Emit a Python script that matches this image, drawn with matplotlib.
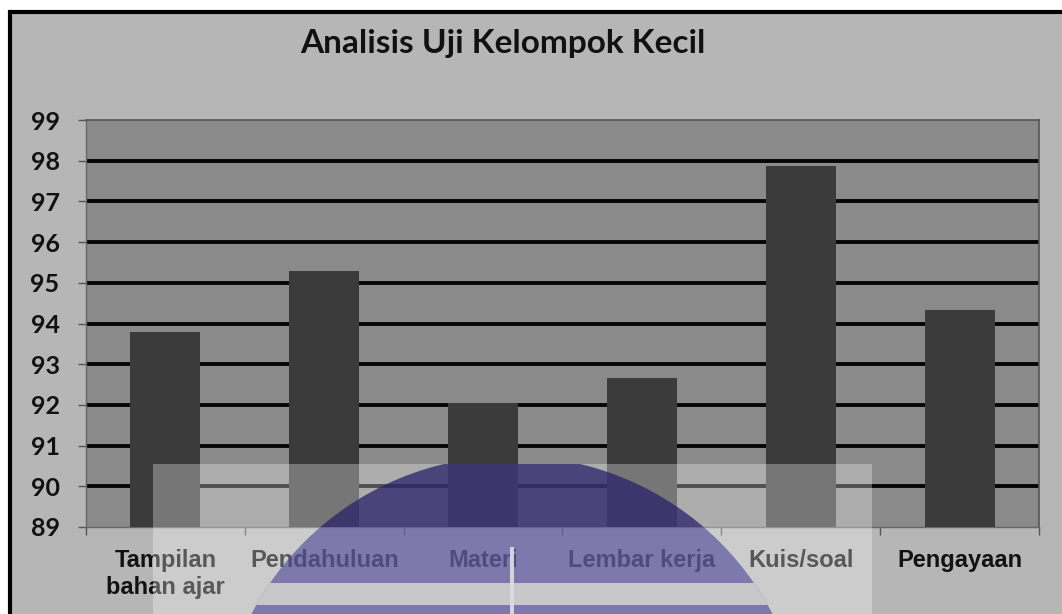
import matplotlib.pyplot as plt
import numpy as np
from matplotlib.patches import Rectangle, Circle
from matplotlib.transforms import Affine2D

categories = ["Tampilan\nbahan ajar", "Pendahuluan", "Materi", "Lembar kerja", "Kuis/soal", "Pengayaan"]
values = [93.78, 95.3, 92.05, 92.65, 97.88, 94.33]
y_ticks = [89, 90, 91, 92, 93, 94, 95, 96, 97, 98, 99]
title = "Analisis Uji Kelompok Kecil"

W, H = 1062, 614
fig = plt.figure(figsize=(W / 100, H / 100), dpi=100)
fig.patch.set_facecolor("white")
px = Affine2D().scale(1 / W, 1 / H) + fig.transFigure  # image pixels, y from bottom


def px_rect(x0, y0, x1, y1, **kw):
    # rectangle given in image pixels (y measured from the top)
    return Rectangle((x0, H - y1), x1 - x0, y1 - y0, transform=px, **kw)


# outer chart frame (the scan cuts it off on the right/bottom)
fig.patches.append(px_rect(10, 12, 1200, 700, facecolor="#b6b6b6", edgecolor="black", linewidth=3, zorder=-5))

ax = fig.add_axes([86 / W, 1 - 527 / H, (1039 - 86) / W, (527 - 120) / H])
ax.set_facecolor("#8a8a8a")

x = np.arange(len(categories))
ax.bar(x, np.array(values) - 89, width=0.44, bottom=89, color="#3b3b3b", zorder=3)

ax.set_xlim(-0.5, len(categories) - 0.5)
ax.set_ylim(89, 99)
ax.set_yticks(y_ticks)
ax.set_yticklabels([str(t) for t in y_ticks], fontsize=18, fontweight="bold",
                   family=["Lato", "DejaVu Sans"], color="#111111")
for t in y_ticks[1:-1]:
    ax.axhline(t, color="#050505", linewidth=2.8, zorder=2)

ax.set_xticks(np.arange(len(categories) + 1) - 0.5)
ax.set_xticklabels([])
ax.tick_params(axis="y", length=6, width=1, color="#555555", pad=13)
ax.tick_params(axis="x", length=6, width=1, color="#555555")
for i, c in enumerate(categories):
    ax.text(i, -0.055, c, transform=ax.get_xaxis_transform(), ha="center", va="top",
            fontsize=17, fontweight="bold", family=["Liberation Sans Narrow", "Liberation Sans"],
            color="#111111", linespacing=1.2)

for s in ["left", "bottom"]:
    ax.spines[s].set_color("#666666")
    ax.spines[s].set_linewidth(1)
for s in ["top", "right"]:
    ax.spines[s].set_color("#555555")
    ax.spines[s].set_linewidth(1.2)

fig.text(503 / W, 1 - 44 / H, title, ha="center", va="center", fontsize=24, fontweight="bold",
         family=["Lato", "DejaVu Sans"], color="#111111")

# scanned watermark overlay: translucent white box with a purple dome inside it
fig.patches.append(px_rect(153, 464, 872, 700, facecolor="white", alpha=0.3, edgecolor="none", zorder=10))
clip_top = px_rect(153, 464, 872, 527)
clip_low = px_rect(153, 527, 872, 700)
for clip, col, alpha in [(clip_top, "#28226a", 0.75), (clip_low, "#4a4399", 0.6)]:
    dome = Circle((512, H - 750), 294, transform=px, facecolor=col, alpha=alpha, edgecolor="none", zorder=11)
    dome.set_clip_path(clip)
    fig.patches.append(dome)
band_clip = Circle((512, H - 750), 294, transform=px)
band = px_rect(0, 583, W, 605, facecolor="#cdcdcd", alpha=0.95, edgecolor="none", zorder=12)
band.set_clip_path(band_clip)
fig.patches.append(band)
fig.patches.append(px_rect(510, 547, 514, 700, facecolor="#dedede", alpha=0.9, edgecolor="none", zorder=12))

fig.savefig("out.png", dpi=100)
